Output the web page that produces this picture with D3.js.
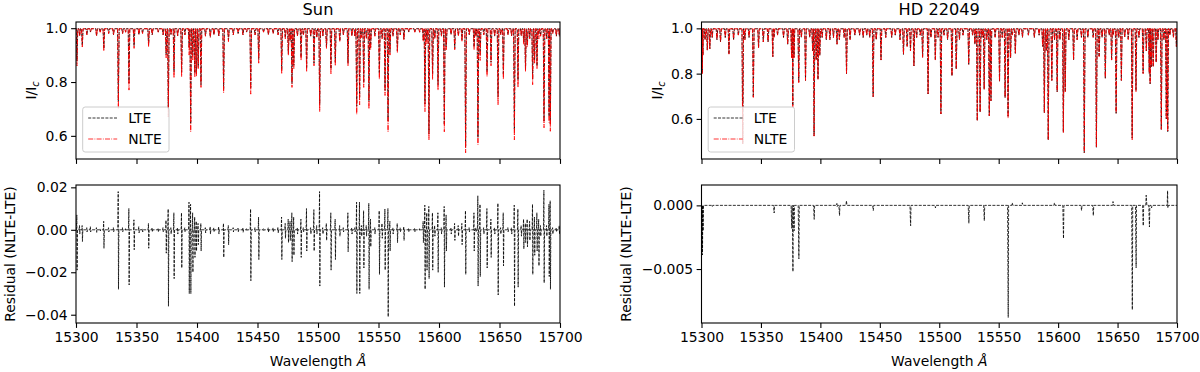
<!DOCTYPE html>
<html>
<head>
<meta charset="utf-8">
<script src="https://d3js.org/d3.v7.min.js"></script>
<style>
  body { margin: 0; background: #fff; }
  text { font-family: "DejaVu Sans", sans-serif; fill: #000; }
</style>
</head>
<body>
<svg id="fig" width="1200" height="372"></svg>
<script>
// DATA: line centre, NLTE minimum, residual max / min
const sunWave = [15300.8,15303,15305.2,15309,15312,15317,15320,15323,15327,15331,15335,15338.5,15341,15343.8,15348,15352,15355,15360,15363,15368,15372,15374.5,15376.3,15378.5,15381,15384,15387.3,15390,15393.5,15394.8,15396.5,15398.2,15399.5,15401,15403.3,15407,15411,15414,15418,15422,15426,15430,15434,15438,15441,15444.4,15448,15451,15455,15459,15463,15467,15470,15473,15475.5,15477,15478.5,15480,15483,15486,15488,15490.6,15494,15496.7,15499,15501.4,15504,15507,15510.7,15514.3,15518,15521,15524.8,15528,15530.5,15532,15534.4,15536,15537.8,15540,15542.1,15543.5,15547,15550.7,15553,15555.4,15557.9,15559.5,15562,15565.6,15568,15571,15575,15580,15584,15587,15588.4,15590,15591.7,15594.7,15596.5,15599.2,15602,15604.4,15606,15610,15613,15616,15619,15622,15625,15629,15630.5,15632.2,15634,15637,15639.7,15643,15646,15648.8,15651,15653.2,15657,15660,15662.3,15665.3,15668,15670,15671.5,15673,15675,15677.4,15679,15681,15682.5,15684,15686.8,15689,15691,15692,15694,15697,15699.5];
const sunNLTE = [0.86,0.97,0.93,0.975,0.985,0.97,0.985,0.915,0.98,0.975,0.70,0.98,0.985,0.77,0.925,0.975,0.98,0.93,0.975,0.985,0.975,0.89,0.67,0.975,0.815,0.97,0.82,0.975,0.90,0.615,0.88,0.82,0.82,0.85,0.78,0.97,0.965,0.975,0.97,0.76,0.95,0.975,0.98,0.975,0.985,0.755,0.975,0.87,0.985,0.975,0.98,0.975,0.83,0.96,0.90,0.95,0.78,0.85,0.97,0.88,0.975,0.84,0.97,0.86,0.965,0.69,0.97,0.925,0.83,0.86,0.95,0.975,0.86,0.97,0.97,0.68,0.715,0.965,0.78,0.96,0.70,0.92,0.97,0.81,0.96,0.75,0.615,0.90,0.97,0.91,0.975,0.955,0.985,0.985,0.985,0.95,0.69,0.94,0.585,0.81,0.96,0.77,0.97,0.615,0.92,0.975,0.92,0.97,0.95,0.537,0.975,0.92,0.97,0.567,0.88,0.975,0.82,0.86,0.97,0.715,0.975,0.81,0.975,0.97,0.585,0.78,0.97,0.94,0.84,0.93,0.96,0.79,0.87,0.85,0.96,0.97,0.63,0.96,0.65,0.617,0.98,0.97,0.97];
const sunResHi = [0.007,0.002,0.002,0.001,0.0015,0.001,0.0005,0.004,0.001,0.001,0.018,0.001,0.0005,0.010,0.0047,0.0015,0.0005,0.003,0.001,0.0008,0.001,0.0045,0.0098,0.001,0.008,0.001,0.008,0.001,0.013,0.012,0.008,0.006,0.004,0.003,0.003,0.001,0.0015,0.001,0.0015,0.003,0.002,0.001,0.0008,0.001,0.0005,0.0098,0.001,0.006,0.0005,0.001,0.001,0.0012,0.006,0.003,0.005,0.004,0.008,0.006,0.001,0.005,0.001,0.010,0.001,0.0095,0.002,0.018,0.001,0.003,0.008,0.005,0.002,0.001,0.008,0.001,0.001,0.013,0.013,0.002,0.009,0.002,0.0125,0.005,0.001,0.009,0.003,0.0098,0.010,0.004,0.001,0.003,0.001,0.0015,0.0008,0.0008,0.0005,0.004,0.0116,0.008,0.011,0.008,0.002,0.008,0.001,0.011,0.007,0.001,0.003,0.002,0.003,0.009,0.001,0.008,0.001,0.016,0.012,0.001,0.010,0.005,0.001,0.0125,0.001,0.008,0.001,0.001,0.0116,0.0098,0.002,0.005,0.003,0.005,0.004,0.012,0.006,0.008,0.005,0.002,0.0186,0.002,0.012,0.0137,0.001,0.001,0.002];
const sunResLo = [-0.019,-0.002,-0.0055,-0.001,-0.001,-0.0012,-0.0005,-0.0087,-0.001,-0.001,-0.028,-0.001,-0.0005,-0.026,-0.0094,-0.0015,-0.001,-0.0087,-0.001,-0.001,-0.001,-0.011,-0.036,-0.002,-0.023,-0.002,-0.018,-0.001,-0.030,-0.030,-0.020,-0.013,-0.010,-0.007,-0.010,-0.0015,-0.002,-0.001,-0.002,-0.013,-0.007,-0.001,-0.001,-0.0012,-0.0005,-0.024,-0.001,-0.014,-0.0005,-0.0012,-0.001,-0.0015,-0.014,-0.004,-0.006,-0.005,-0.015,-0.012,-0.002,-0.013,-0.001,-0.010,-0.002,-0.010,-0.002,-0.0265,-0.002,-0.005,-0.019,-0.014,-0.003,-0.001,-0.0103,-0.002,-0.001,-0.030,-0.030,-0.003,-0.018,-0.003,-0.028,-0.008,-0.002,-0.021,-0.004,-0.019,-0.041,-0.010,-0.002,-0.006,-0.001,-0.005,-0.001,-0.001,-0.0005,-0.006,-0.028,-0.019,-0.023,-0.019,-0.003,-0.020,-0.002,-0.027,-0.010,-0.002,-0.005,-0.003,-0.007,-0.021,-0.001,-0.010,-0.001,-0.0265,-0.022,-0.002,-0.018,-0.013,-0.002,-0.0307,-0.002,-0.017,-0.001,-0.002,-0.036,-0.027,-0.003,-0.009,-0.006,-0.008,-0.005,-0.021,-0.012,-0.010,-0.017,-0.003,-0.025,-0.003,-0.022,-0.028,-0.002,-0.001,-0.002];

const hdWave = [15300.3,15300.7,15301.2,15303,15304.9,15307,15309,15313,15316,15320,15323.1,15327,15331,15334.7,15336.5,15340,15343.6,15348,15352,15356,15360,15361,15364,15369,15372.5,15375.8,15376.8,15377.8,15381.8,15384,15387.5,15391,15393.5,15394.7,15396.5,15398,15399.5,15401.5,15405,15408,15411,15414,15416,15420,15422,15425,15429,15433,15436,15439,15441.5,15444.4,15447,15451,15455,15460,15463,15467,15469.9,15473,15475.8,15478.7,15481,15484,15486,15490.6,15493,15496.7,15499,15501.4,15504,15507,15510.7,15514.3,15517,15520,15524.8,15528,15530,15532,15534.4,15536,15537.8,15540,15542.1,15543.5,15547,15550.7,15553,15555.4,15557.9,15560,15561.5,15564,15567,15570,15575,15580,15584,15587,15588.4,15590,15591.7,15594.7,15597,15599.2,15601.5,15604.4,15606,15609,15613,15616,15619.6,15622,15625,15629.5,15632.2,15634.5,15637,15639.7,15643,15645,15646.3,15648.8,15651,15653.2,15656,15659,15662.3,15665.5,15668,15671.5,15674.2,15676.7,15677.4,15678.5,15680,15682.5,15684,15686.8,15689,15691,15692.2,15694,15697,15699.5];
const hdNLTE = [0.85,0.80,0.88,0.95,0.904,0.91,0.96,0.95,0.94,0.96,0.886,0.95,0.97,0.49,0.95,0.96,0.695,0.915,0.94,0.94,0.875,0.96,0.97,0.96,0.93,0.87,0.654,0.87,0.76,0.96,0.77,0.96,0.90,0.524,0.86,0.775,0.88,0.96,0.95,0.95,0.96,0.93,0.95,0.96,0.80,0.95,0.97,0.97,0.96,0.97,0.96,0.698,0.95,0.86,0.96,0.96,0.97,0.95,0.885,0.92,0.90,0.834,0.96,0.97,0.872,0.71,0.96,0.86,0.96,0.622,0.97,0.95,0.79,0.82,0.95,0.97,0.84,0.97,0.93,0.592,0.63,0.96,0.73,0.95,0.614,0.68,0.96,0.765,0.96,0.694,0.603,0.87,0.97,0.89,0.97,0.96,0.97,0.96,0.97,0.92,0.627,0.90,0.507,0.77,0.95,0.72,0.95,0.539,0.72,0.95,0.86,0.95,0.96,0.451,0.96,0.96,0.475,0.875,0.96,0.78,0.97,0.86,0.97,0.625,0.96,0.77,0.96,0.95,0.507,0.72,0.96,0.80,0.90,0.80,0.755,0.83,0.83,0.85,0.95,0.554,0.95,0.60,0.544,0.97,0.96,0.92];
const hdResHi = [0,0,0,0,0,0,0,0,0,0,0,0,0,0,0,0,0,0,0,0,0,0,0,0,0,0,0,0,0,0,0,0,0,0,0,0,0,0,0,0,0,0.00015,0,0,0.00036,0,0,0,0,0,0,0,0,0,0,0,0,0,0,0,0,0,0,0,0,0,0,0,0,0,0,0,0,0,0,0,0,0,0,0,0,0,0,0,0,0,0,0,0,0,0,0,0.0002,0,0,0.0002,0,0,0,0,0,0,0,0,0.0002,0,0,0,0,0,0,0,0,0,0,0,0,0,0,0,0,0,0.0003,0,0,0,0,0,0,0,0,0,0.0008,0,0,0,0,0,0,0,0,0,0.00115,0,0,0];
const hdResLo = [-0.0035,-0.0039,-0.002,0,0,0,-0.0001,0,0,0,0,0,0,0,0,0,0,0,0,0,0,-0.0006,0,0,0,-0.0018,-0.0052,-0.002,-0.0042,0,0,0,0,-0.0011,0,0,0,0,0,0,0,-0.0001,-0.0008,0,0,0,0,0,0,0,0,-0.0004,0,0,0,0,0,0,0,0,-0.0016,0,0,0,0,0,0,-0.0002,0,0,0,0,0,0,0,0,-0.0014,0,0,0,0,0,-0.0012,0,0,0,0,0,0,0,-0.0088,0,0,0,0,0,0,0,0,0,0,0,0,0,0,0,0,-0.0026,0,0,0,0,-0.0004,0,0,-0.0008,0,0,0,0,0,0,0,0,0,0,0,0,-0.0082,-0.0049,0,-0.0016,0,-0.0017,0,-0.0002,0,0,0,0,0,0,-0.0002,0,0,0];

const wlRange = [15300, 15700];
const xTicks = [15300, 15350, 15400, 15450, 15500, 15550, 15600, 15650, 15700];

// HELPERS
// spectrum as a path: continuum, then each line dips to its minimum
function spectrumPoints(wave, depth) {
    const pts = [[wlRange[0], 1.0]];
    wave.forEach((c, i) => {
        pts.push([c - 0.65, 0.998], [c, depth[i]], [c + 0.65, 0.998]);
    });
    pts.push([wlRange[1], 1.0]);
    return pts.sort((a, b) => a[0] - b[0]);
}

function residualPoints(wave, hi, lo) {
    const pts = [[wlRange[0], 0]];
    wave.forEach((c, i) => {
        if (hi[i] === 0 && lo[i] === 0) return;
        pts.push([c - 0.45, 0]);
        if (hi[i] !== 0) pts.push([c - 0.12, hi[i]]);
        if (lo[i] !== 0) pts.push([c + 0.12, lo[i]]);
        pts.push([c + 0.45, 0]);
    });
    pts.push([wlRange[1], 0]);
    return pts.sort((a, b) => a[0] - b[0]);
}

const svg = d3.select("#fig");

const panels = [
    {
        title: "Sun", x0: 76, x1: 560,
        wave: sunWave, nlte: sunNLTE, hi: sunResHi, lo: sunResLo,
        yTop: [0.514, 1.023], yBot: [-0.0439, 0.0211],
        botTicks: [-0.04, -0.02, 0, 0.02], botFmt: d3.format(".2f"),
        resLabelOff: 66.5
    },
    {
        title: "HD 22049", x0: 701.5, x1: 1177,
        wave: hdWave, nlte: hdNLTE, hi: hdResHi, lo: hdResLo,
        yTop: [0.423, 1.028], yBot: [-0.00924, 0.0016],
        botTicks: [-0.005, 0], botFmt: d3.format(".3f"),
        resLabelOff: 75.5
    }
];

const topBox = [22, 159];
const botBox = [185, 323];
const fs = 13.9;

panels.forEach((p, pi) => {
    const x = d3.scaleLinear().domain(wlRange).range([p.x0, p.x1]);
    const yT = d3.scaleLinear().domain(p.yTop).range([topBox[1], topBox[0]]);
    const yB = d3.scaleLinear().domain(p.yBot).range([botBox[1], botBox[0]]);

    // clip paths
    [["t", topBox], ["b", botBox]].forEach(([k, b]) => {
        svg.append("clipPath").attr("id", `clip-${k}${pi}`)
            .append("rect").attr("x", p.x0).attr("y", b[0])
            .attr("width", p.x1 - p.x0).attr("height", b[1] - b[0]);
    });

    const line = (y) => d3.line().x(d => x(d[0])).y(d => y(d[1]));

    // top: LTE (= NLTE - residual) and NLTE spectra
    const lte = p.nlte.map((v, i) => Math.min(0.998, v - p.lo[i]));
    const gT = svg.append("g").attr("clip-path", `url(#clip-t${pi})`);
    gT.append("path")
        .attr("d", line(yT)(spectrumPoints(p.wave, lte)))
        .attr("fill", "none").attr("stroke", "#000")
        .attr("stroke-width", 0.9).attr("stroke-dasharray", "3,1.3");
    gT.append("path")
        .attr("d", line(yT)(spectrumPoints(p.wave, p.nlte)))
        .attr("fill", "none").attr("stroke", "#ff0000")
        .attr("stroke-width", 0.9).attr("stroke-dasharray", "5,1.3,0.8,1.3");

    // bottom: residual
    const gB = svg.append("g").attr("clip-path", `url(#clip-b${pi})`);
    gB.append("path")
        .attr("d", line(yB)(residualPoints(p.wave, p.hi, p.lo)))
        .attr("fill", "none").attr("stroke", "#000")
        .attr("stroke-width", 0.8).attr("stroke-dasharray", "3,1.3");

    // axes
    const styleAxis = g => {
        g.attr("font-size", fs).attr("font-family", "DejaVu Sans");
        g.select(".domain").remove();
        g.selectAll(".tick line").attr("stroke", "#000").attr("stroke-width", 1.1);
    };

    svg.append("g").attr("transform", `translate(0,${topBox[1]})`)
        .call(d3.axisBottom(x).tickValues(xTicks).tickSize(4.9).tickFormat(""))
        .call(styleAxis);
    svg.append("g").attr("transform", `translate(0,${botBox[1]})`)
        .call(d3.axisBottom(x).tickValues(xTicks).tickSize(4.9).tickPadding(4.2).tickFormat(d3.format("d")))
        .call(styleAxis);
    svg.append("g").attr("transform", `translate(${p.x0},0)`)
        .call(d3.axisLeft(yT).tickValues([0.6, 0.8, 1.0]).tickSize(4.9).tickPadding(3.5).tickFormat(d3.format(".1f")))
        .call(styleAxis);
    svg.append("g").attr("transform", `translate(${p.x0},0)`)
        .call(d3.axisLeft(yB).tickValues(p.botTicks).tickSize(4.9).tickPadding(3.5).tickFormat(p.botFmt))
        .call(styleAxis);

    // spines
    [topBox, botBox].forEach(b => {
        svg.append("rect").attr("x", p.x0).attr("y", b[0])
            .attr("width", p.x1 - p.x0).attr("height", b[1] - b[0])
            .attr("fill", "none").attr("stroke", "#000").attr("stroke-width", 1.1);
    });

    const cx = (p.x0 + p.x1) / 2;

    // title
    svg.append("text").attr("x", cx).attr("y", 15)
        .attr("text-anchor", "middle").attr("font-size", 16.2).text(p.title);

    // x label
    const xl = svg.append("text").attr("x", cx).attr("y", 365.5)
        .attr("text-anchor", "middle").attr("font-size", fs);
    xl.append("tspan").text("Wavelength ");
    xl.append("tspan").attr("font-style", "italic").text("Å");

    // y labels
    const yl = svg.append("text")
        .attr("transform", `translate(${p.x0 - 40},${(topBox[0] + topBox[1]) / 2}) rotate(-90)`)
        .attr("text-anchor", "middle").attr("font-size", fs);
    yl.append("tspan").text("I/I");
    yl.append("tspan").attr("font-size", fs * 0.7).attr("font-style", "italic").attr("dy", 3).text("c");

    svg.append("text")
        .attr("transform", `translate(${p.x0 - p.resLabelOff + 5},${(botBox[0] + botBox[1]) / 2}) rotate(-90)`)
        .attr("text-anchor", "middle").attr("font-size", fs)
        .text("Residual (NLTE-LTE)");

    // legend
    const lg = svg.append("g").attr("transform", `translate(${p.x0 + 6.7},107)`);
    lg.append("rect").attr("width", 86.3).attr("height", 45).attr("rx", 2.5)
        .attr("fill", "#fff").attr("fill-opacity", 0.8)
        .attr("stroke", "#ccc").attr("stroke-width", 1);
    const items = [["LTE", "#000", "3,1.3"], ["NLTE", "#ff0000", "5,1.3,0.8,1.3"]];
    items.forEach((it, i) => {
        const yy = 11 + i * 21;
        lg.append("line").attr("x1", 5.5).attr("x2", 34.5).attr("y1", yy).attr("y2", yy)
            .attr("stroke", it[1]).attr("stroke-width", 0.8).attr("stroke-dasharray", it[2]);
        lg.append("text").attr("x", 45.5).attr("y", yy + 5).attr("font-size", fs).text(it[0]);
    });
});
</script>
</body>
</html>
